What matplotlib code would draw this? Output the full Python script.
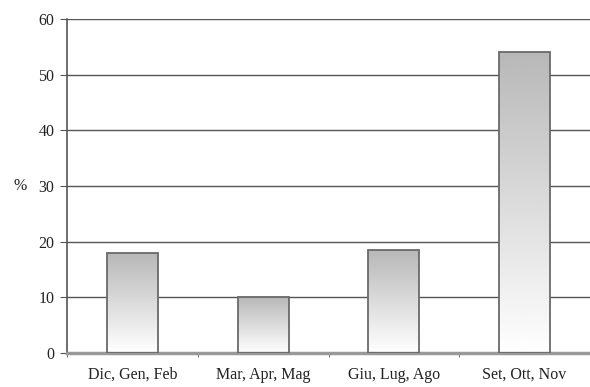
import numpy as np
import matplotlib.pyplot as plt

stagioni = ['Dic, Gen, Feb', 'Mar, Apr, Mag', 'Giu, Lug, Ago', 'Set, Ott, Nov']
percentuali = [17.9, 10.0, 18.5, 54.0]
yticks = [0, 10, 20, 30, 40, 50, 60]

plt.rcParams['font.family'] = ['Liberation Serif', 'DejaVu Serif']

fig = plt.figure(figsize=(5.9, 3.87), dpi=100)
ax = fig.add_axes([67 / 590, 34 / 387, 523 / 590, 334 / 387])

x = np.arange(len(stagioni))
bars = ax.bar(x, percentuali, width=0.39, color='none', edgecolor='#6a6a6a',
              linewidth=1.3, zorder=3)

# riempimento sfumato (grigio in alto, bianco in basso)
grad = np.linspace(0.72, 1.0, 256).reshape(-1, 1)
for b in bars:
    x0, y0 = b.get_x(), b.get_y()
    w, h = b.get_width(), b.get_height()
    im = ax.imshow(grad, extent=[x0, x0 + w, y0, y0 + h], cmap='gray', vmin=0, vmax=1,
                   aspect='auto', zorder=2, interpolation='bicubic')
    im.set_clip_path(b)

ax.set_xlim(-0.5, len(stagioni) - 0.5)
ax.set_ylim(0, 60)
ax.set_yticks(yticks)
ax.set_xticks(x)
ax.set_xticklabels(stagioni, fontsize=11.5, color='#222222')
ax.set_xticks(np.arange(len(stagioni) + 1) - 0.5, minor=True)
ax.tick_params(axis='x', which='major', length=0, pad=10)
ax.tick_params(axis='x', which='minor', length=3, color='#555555')
ax.tick_params(axis='y', length=5, color='#555555', labelsize=11.5, labelcolor='#222222', pad=4)

ax.yaxis.grid(True, color='#555555', linewidth=1.0, zorder=1)
ax.set_axisbelow(True)

ax.set_ylabel('%', rotation=0, fontsize=11.5, color='#222222', va='center')
ax.yaxis.set_label_coords(-0.09, 0.5)

for s in ['top', 'right']:
    ax.spines[s].set_visible(False)
ax.spines['left'].set_color('#555555')
ax.spines['left'].set_linewidth(1.2)
ax.spines['bottom'].set_color('#999999')
ax.spines['bottom'].set_linewidth(2.5)

plt.savefig('out.png', dpi=100)
